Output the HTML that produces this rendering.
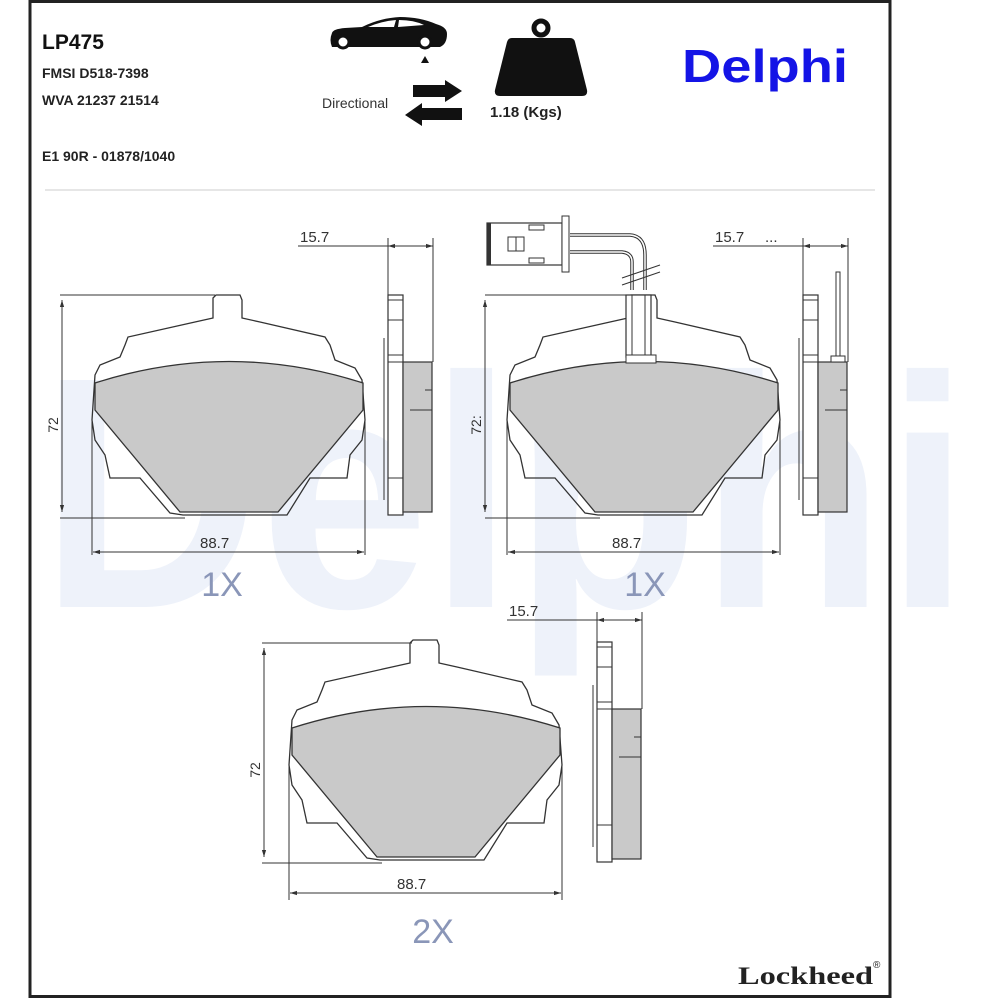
<!DOCTYPE html>
<html><head><meta charset="utf-8"><style>
body{margin:0;background:#fff;width:1000px;height:1000px;overflow:hidden;font-family:"Liberation Sans",sans-serif}
</style></head><body>
<svg width="1000" height="1000" viewBox="0 0 1000 1000" xmlns="http://www.w3.org/2000/svg">
<defs>
<marker id="a" viewBox="0 0 10 10" refX="10" refY="5" markerWidth="7" markerHeight="7" orient="auto-start-reverse"><path d="M0,2 L10,5 L0,8 Z" fill="#333"/></marker>
<g id="pad">
<path d="M213,298 L216,295 L240,295 L242,300 L242,318 L260,322 L325,337 L330,345 L335,360 L355,368 L362,380 L365,420 L362,440 L350,455 L347,478 L310,478 L287,515 L183,515 L170,513 L140,478 L110,478 L105,455 L95,440 L92,420 L95,375 L100,365 L120,357 L125,345 L128,337 L195,322 L213,318 Z" fill="none" stroke="#333" stroke-width="1.3"/>
<path d="M95,383 Q229,340 363,383 L363,410 L278,512 L180,512 L95,410 Z" fill="#c9c9c9" stroke="#333" stroke-width="1.3"/>
</g>
<g id="sidebody">
<rect x="388" y="295" width="15" height="220" fill="#fff" stroke="#333" stroke-width="1.2"/>
<line x1="388" y1="300" x2="403" y2="300" stroke="#333"/>
<line x1="388" y1="320" x2="403" y2="320" stroke="#333"/>
<line x1="388" y1="355" x2="403" y2="355" stroke="#333"/>
<line x1="388" y1="362" x2="403" y2="362" stroke="#333"/>
<line x1="388" y1="478" x2="403" y2="478" stroke="#333"/>
<line x1="384" y1="338" x2="384" y2="500" stroke="#333"/>
<rect x="403" y="362" width="29" height="150" fill="#c9c9c9" stroke="#333" stroke-width="1.2"/>
<line x1="425" y1="390" x2="432" y2="390" stroke="#333"/>
<line x1="410" y1="410" x2="432" y2="410" stroke="#333"/>
<line x1="433" y1="295" x2="433" y2="362" stroke="#333"/>
</g>
<g id="sidedim">
<line x1="388" y1="238" x2="388" y2="300" stroke="#333"/>
<line x1="433" y1="238" x2="433" y2="300" stroke="#333"/>
<line x1="298" y1="246" x2="433" y2="246" stroke="#333"/>
<line x1="388" y1="246" x2="398" y2="246" stroke="#333" marker-start="url(#a)"/>
<line x1="423" y1="246" x2="433" y2="246" stroke="#333" marker-end="url(#a)"/>
<text x="300" y="242" font-size="15" fill="#333">15.7</text>
</g>
</defs>

<text x="40" y="607" font-size="330" font-weight="bold" fill="#eef2fa" textLength="930" lengthAdjust="spacingAndGlyphs">Delphi</text>

<rect x="30" y="1.5" width="860" height="995" fill="none" stroke="#222" stroke-width="3"/>
<line x1="45" y1="190" x2="875" y2="190" stroke="#ccc" stroke-width="1"/>

<text x="42" y="49" font-size="21" font-weight="bold" fill="#111">LP475</text>
<text x="42" y="78" font-size="14" font-weight="bold" fill="#222">FMSI D518-7398</text>
<text x="42" y="105" font-size="14" font-weight="bold" fill="#222">WVA 21237 21514</text>
<text x="42" y="161" font-size="14" font-weight="bold" fill="#222">E1 90R - 01878/1040</text>

<!-- car -->
<path d="M332,33 Q333,29 345,28 L362,27 Q380,18 400,17 Q420,17 436,24 Q447,27 447,34 Q447,44 440,47 L332,47 Q329,40 332,33 Z" fill="#111"/>
<path d="M368,27 Q382,21 396,20 L394,27 Z M399,20 Q414,20 424,25 L398,27 Z" fill="#fff"/>
<circle cx="343" cy="42" r="6" fill="#fff" stroke="#111" stroke-width="3"/>
<circle cx="425" cy="42" r="6" fill="#fff" stroke="#111" stroke-width="3"/>
<path d="M425,56 L429,63 L421,63 Z" fill="#111"/>
<text x="322" y="108" font-size="14" fill="#333">Directional</text>
<path d="M413,85 L445,85 L445,80 L462,91 L445,102 L445,97 L413,97 Z" fill="#111"/>
<path d="M462,108 L422,108 L422,103 L405,115 L422,126 L422,120 L462,120 Z" fill="#111"/>
<!-- weight -->
<circle cx="541" cy="28" r="7" fill="none" stroke="#111" stroke-width="5"/>
<path d="M512,38 L570,38 Q574,38 575,42 L587,90 Q588,96 582,96 L500,96 Q494,96 495,90 L507,42 Q508,38 512,38 Z" fill="#111"/>
<text x="490" y="117" font-size="15" font-weight="bold" fill="#222">1.18 (Kgs)</text>

<text x="682" y="82" font-size="46" font-weight="bold" fill="#1414e6" textLength="166" lengthAdjust="spacingAndGlyphs">Delphi</text>

<!-- pad 1 -->
<use href="#pad"/>
<use href="#sidebody"/>
<use href="#sidedim"/>
<line x1="60" y1="295" x2="215" y2="295" stroke="#333"/>
<line x1="60" y1="518" x2="185" y2="518" stroke="#333"/>
<line x1="62" y1="300" x2="62" y2="512" stroke="#333" marker-start="url(#a)" marker-end="url(#a)"/>
<text transform="translate(58,425) rotate(-90)" font-size="14" fill="#333" text-anchor="middle">72</text>
<line x1="92" y1="420" x2="92" y2="555" stroke="#333"/>
<line x1="365" y1="420" x2="365" y2="555" stroke="#333"/>
<line x1="93" y1="552" x2="364" y2="552" stroke="#333" marker-start="url(#a)" marker-end="url(#a)"/>
<text x="200" y="548" font-size="15" fill="#333">88.7</text>
<text x="222" y="596" font-size="34" fill="#8a96b8" text-anchor="middle">1X</text>

<!-- pad 2 -->
<g transform="translate(415,0)">
<use href="#pad"/>
<use href="#sidebody"/>
<use href="#sidedim"/>
<line x1="70" y1="295" x2="215" y2="295" stroke="#333"/>
<line x1="70" y1="518" x2="185" y2="518" stroke="#333"/>
<line x1="70" y1="300" x2="70" y2="512" stroke="#333" marker-start="url(#a)" marker-end="url(#a)"/>
<text transform="translate(66,425) rotate(-90)" font-size="14" fill="#333" text-anchor="middle">72:</text>
<line x1="92" y1="420" x2="92" y2="555" stroke="#333"/>
<line x1="365" y1="420" x2="365" y2="555" stroke="#333"/>
<line x1="93" y1="552" x2="364" y2="552" stroke="#333" marker-start="url(#a)" marker-end="url(#a)"/>
<text x="197" y="548" font-size="15" fill="#333">88.7</text>
<text x="230" y="596" font-size="34" fill="#8a96b8" text-anchor="middle">1X</text>
<text x="350" y="242" font-size="15" fill="#333">...</text>
<rect x="421" y="272" width="4" height="90" fill="#fff" stroke="#333"/>
<rect x="416" y="356" width="14" height="6" fill="#fff" stroke="#333"/>
</g>
<!-- wire and connector pad 2 -->
<rect x="626" y="295" width="25" height="62" fill="#fff" stroke="#333" stroke-width="1.2"/>
<line x1="632" y1="295" x2="632" y2="357" stroke="#333"/>
<line x1="645" y1="295" x2="645" y2="357" stroke="#333"/>
<rect x="626" y="355" width="30" height="8" fill="#fff" stroke="#333"/>
<path d="M632,290 L632,262 Q632,253 622,252 L570,252 M645,290 L645,255 Q645,236 630,235 L570,235" fill="none" stroke="#333" stroke-width="3.5"/>
<path d="M632,290 L632,262 Q632,253 622,252 L570,252 M645,290 L645,255 Q645,236 630,235 L570,235" fill="none" stroke="#fff" stroke-width="1.5"/>
<line x1="622" y1="278" x2="660" y2="265" stroke="#333"/><line x1="622" y1="285" x2="660" y2="272" stroke="#333"/>
<rect x="487" y="223" width="75" height="42" fill="#fff" stroke="#333" stroke-width="1.2"/>
<rect x="487" y="223" width="4" height="42" fill="#333"/>
<rect x="562" y="216" width="7" height="56" fill="#fff" stroke="#333"/>
<rect x="508" y="237" width="16" height="14" fill="#fff" stroke="#333"/>
<line x1="516" y1="237" x2="516" y2="251" stroke="#333"/>
<rect x="529" y="225" width="15" height="5" fill="#fff" stroke="#333"/>
<rect x="529" y="258" width="15" height="5" fill="#fff" stroke="#333"/>

<!-- pad 3 -->
<g transform="translate(197,345)">
<use href="#pad"/>
<line x1="65" y1="298" x2="215" y2="298" stroke="#333"/>
<line x1="65" y1="518" x2="185" y2="518" stroke="#333"/>
<line x1="67" y1="303" x2="67" y2="512" stroke="#333" marker-start="url(#a)" marker-end="url(#a)"/>
<text transform="translate(63,425) rotate(-90)" font-size="14" fill="#333" text-anchor="middle">72</text>
<line x1="92" y1="420" x2="92" y2="555" stroke="#333"/>
<line x1="365" y1="420" x2="365" y2="555" stroke="#333"/>
<line x1="93" y1="548" x2="364" y2="548" stroke="#333" marker-start="url(#a)" marker-end="url(#a)"/>
<text x="200" y="544" font-size="15" fill="#333">88.7</text>
<text x="236" y="598" font-size="34" fill="#8a96b8" text-anchor="middle">2X</text>
</g>
<g transform="translate(209,347)"><use href="#sidebody"/></g>
<g transform="translate(209,374)"><use href="#sidedim"/></g>

<text x="738" y="984" font-size="25" font-weight="bold" fill="#222" font-family="Liberation Serif,serif" textLength="135" lengthAdjust="spacingAndGlyphs">Lockheed</text>
<text x="873" y="968" font-size="10" fill="#222">®</text>
</svg>
</body></html>
